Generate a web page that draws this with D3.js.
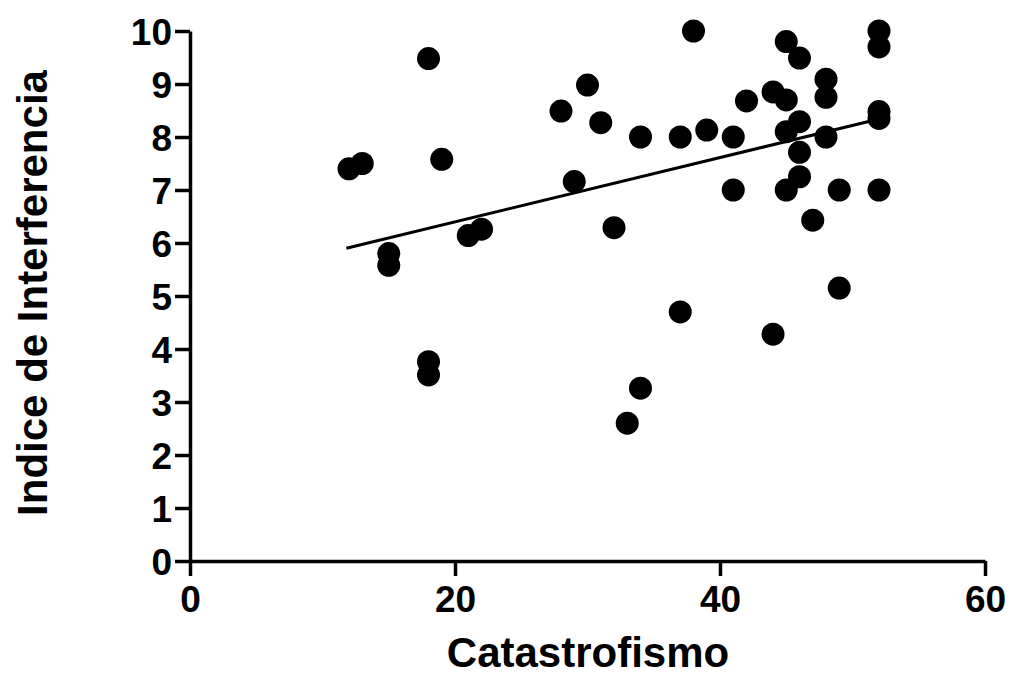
<!DOCTYPE html>
<html>
<head>
<meta charset="utf-8">
<script src="https://cdn.jsdelivr.net/npm/d3@7"></script>
<style>
  body { margin: 0; background: #fff; }
  text { font-family: "Liberation Sans", Arial, sans-serif; font-weight: bold; fill: #000; }
</style>
</head>
<body>
<svg width="1013" height="684"></svg>
<script>
var catastrofismo = [12, 13, 15, 15, 18, 18, 18, 19, 21, 22,
  28, 29, 30, 31, 32, 33, 34, 34, 37, 37,
  38, 39, 41, 41, 42, 44, 44, 45, 45, 45,
  45, 46, 46, 46, 46, 47, 48, 48, 48, 49,
  49, 52, 52, 52, 52, 52];
var interferencia = [7.4, 7.5, 5.8, 5.58, 9.48, 3.76, 3.51, 7.58, 6.14, 6.26,
  8.49, 7.16, 8.98, 8.27, 6.29, 2.6, 8.0, 3.26, 8.0, 4.7,
  10.0, 8.13, 8.0, 7.0, 8.68, 8.85, 4.28, 9.8, 8.7, 8.1,
  7.0, 9.49, 8.29, 7.71, 7.25, 6.43, 9.09, 8.75, 8.0, 7.0,
  5.15, 10.0, 9.7, 8.48, 8.35, 7.0];
// fitted regression line
var fitX = [11.8, 52];
var fitY = [5.9, 8.34];
var xTicks = [0, 20, 40, 60];
var yTicks = [0, 1, 2, 3, 4, 5, 6, 7, 8, 9, 10];
var xTitle = "Catastrofismo";
var yTitle = "Indice de Interferencia";

var svg = d3.select("svg");
var x = d3.scaleLinear().domain([0, 60]).range([190, 985]);
var y = d3.scaleLinear().domain([0, 10]).range([561, 31]);

var points = catastrofismo.map(function(d, i) {
  return {x: d, y: interferencia[i]};
});
var fit = fitX.map(function(d, i) {
  return {x: d, y: fitY[i]};
});

// axes
var xAxis = svg.append("g")
  .attr("transform", "translate(0," + y(0) + ")")
  .call(d3.axisBottom(x).tickValues(xTicks).tickSize(15).tickPadding(10).tickSizeOuter(0));
var yAxis = svg.append("g")
  .attr("transform", "translate(" + x(0) + ",0)")
  .call(d3.axisLeft(y).tickValues(yTicks).tickSize(15).tickPadding(3).tickSizeOuter(0));

svg.selectAll(".domain, .tick line")
  .attr("stroke", "#000")
  .attr("stroke-width", 3.5);
svg.selectAll(".tick text")
  .style("font-size", "37px")
  .style("font-family", "'Liberation Sans', Arial, sans-serif")
  .style("font-weight", "bold")
  .attr("fill", "#000");
yAxis.selectAll(".tick text").attr("dy", "0.36em");

svg.append("path")
  .datum(fit)
  .attr("fill", "none")
  .attr("stroke", "#000")
  .attr("stroke-width", 3)
  .attr("d", d3.line().x(function(d) { return x(d.x); }).y(function(d) { return y(d.y); }));

svg.append("g").selectAll("circle")
  .data(points)
  .join("circle")
  .attr("cx", function(d) { return x(d.x); })
  .attr("cy", function(d) { return y(d.y); })
  .attr("r", 11.5)
  .attr("fill", "#000");

svg.append("text")
  .attr("x", 588)
  .attr("y", 667)
  .attr("text-anchor", "middle")
  .style("font-size", "42px")
  .text(xTitle);

svg.append("text")
  .attr("transform", "translate(47,293) rotate(-90)")
  .attr("text-anchor", "middle")
  .style("font-size", "42px")
  .text(yTitle);
</script>
</body>
</html>
